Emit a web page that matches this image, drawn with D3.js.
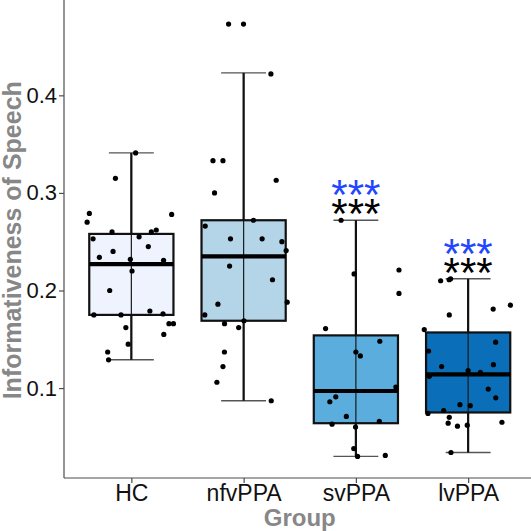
<!DOCTYPE html>
<html>
<head>
<meta charset="utf-8">
<script src="https://cdn.jsdelivr.net/npm/d3@7"></script>
<style>
  body { margin: 0; background: #fff; }
  svg { display: block; font-family: "Liberation Sans", Arial, sans-serif; }
</style>
</head>
<body>
<div id="chart"></div>
<script>
// groups and box summaries
const groups = ["HC", "nfvPPA", "svPPA", "lvPPA"];
const whiskerLow = [0.129, 0.087, 0.030, 0.034];
const q1 = [0.175, 0.169, 0.064, 0.075];
const medians = [0.227, 0.235, 0.097, 0.114];
const q3 = [0.258, 0.272, 0.154, 0.157];
const whiskerHigh = [0.341, 0.423, 0.272, 0.212];

// individual scores per group
const hcValues = [0.341, 0.315, 0.279, 0.270, 0.278, 0.260, 0.260, 0.262, 0.253, 0.255,
  0.240, 0.245, 0.234, 0.232, 0.231, 0.220, 0.200, 0.175, 0.175, 0.179,
  0.176, 0.162, 0.166, 0.166, 0.155, 0.145, 0.137, 0.129];
const nfvValues = [0.473, 0.473, 0.422, 0.333, 0.333, 0.313, 0.300, 0.272, 0.266, 0.253,
  0.253, 0.250, 0.241, 0.225, 0.211, 0.186, 0.188, 0.175, 0.166, 0.162,
  0.169, 0.137, 0.122, 0.106, 0.087];
const svValues = [0.272, 0.217, 0.221, 0.197, 0.161, 0.148, 0.137, 0.133, 0.101, 0.091,
  0.086, 0.071, 0.063, 0.066, 0.060, 0.038, 0.030, 0.031];
const lvValues = [0.210, 0.211, 0.212, 0.175, 0.181, 0.185, 0.160, 0.147, 0.138, 0.122,
  0.124, 0.118, 0.116, 0.112, 0.099, 0.090, 0.083, 0.082, 0.077, 0.074,
  0.070, 0.064, 0.061, 0.062, 0.065, 0.034];

// horizontal jitter (in group units) as seen in the picture
const hcJitter = [0.038, -0.142, -0.374, -0.394, 0.359, -0.172, 0.178, 0.222, -0.341, 0.069,
  -0.163, 0.151, -0.285, -0.009, 0.287, 0.006, -0.193, -0.334, -0.092, 0.165,
  0.282, -0.049, 0.335, 0.375, 0.289, -0.028, -0.211, -0.203];
const nfvJitter = [-0.134, -0.001, 0.243, -0.273, -0.184, 0.290, -0.259, 0.088, -0.342, -0.117,
  0.165, 0.341, 0.379, -0.125, 0.257, -0.229, 0.388, -0.346, -0.170, -0.044,
  0.003, -0.171, -0.184, -0.238, 0.246];
const svJitter = [-0.132, -0.016, 0.384, 0.384, -0.270, 0.213, 0.000, 0.040, 0.356, -0.179,
  -0.232, -0.085, -0.212, 0.209, -0.003, -0.019, 0.015, 0.262];
const lvJitter = [-0.245, -0.169, -0.156, -0.168, 0.223, 0.376, -0.391, 0.245, -0.353, -0.236,
  0.225, 0.000, 0.109, -0.346, 0.179, 0.246, -0.073, 0.019, -0.218, -0.358,
  -0.168, -0.178, -0.095, -0.008, 0.301, -0.153];

const yTicks = [0.1, 0.2, 0.3, 0.4];
const starGroups = ["svPPA", "lvPPA"];

const fills = ["#eef3fe", "#b4d4e8", "#5aaddd", "#0a6fb8"];
const starBlue = "#2347ff";

const W = 531, H = 531;
const padLeft = 64, padBottom = 478, padTop = 2.5, padRight = 535.5;

const values = [hcValues, nfvValues, svValues, lvValues];
const jitters = [hcJitter, nfvJitter, svJitter, lvJitter];

const points = [];
values.forEach((vals, g) => vals.forEach((v, i) => {
  points.push({ g, v, dx: jitters[g][i] });
}));

const all = points.map(d => d.v).concat(whiskerLow, whiskerHigh);
const ext = d3.extent(all);
const pad = (ext[1] - ext[0]) * 0.05;

const x = d3.scaleLinear().domain([0.4, 4.6]).range([padLeft, padRight]);
const y = d3.scaleLinear().domain([ext[0] - pad, ext[1] + pad]).range([padBottom, padTop]);
const unit = x(1) - x(0);

const svg = d3.select("#chart").append("svg")
  .attr("width", W).attr("height", H);

// y axis
const yAxis = svg.append("g")
  .attr("transform", `translate(${padLeft},0)`)
  .call(d3.axisLeft(y).tickValues(yTicks).tickFormat(d3.format(".1f"))
    .tickSize(5).tickPadding(2).tickSizeOuter(0));
yAxis.select(".domain").remove();
yAxis.selectAll("line").attr("stroke", "#4d4d4d").attr("stroke-width", 1.2);
yAxis.selectAll("text").attr("fill", "#111").style("font-size", "22px");

// x axis
const xAxis = svg.append("g")
  .attr("transform", `translate(0,${padBottom})`)
  .call(d3.axisBottom(x).tickValues([1, 2, 3, 4]).tickFormat(i => groups[i - 1])
    .tickSize(5).tickPadding(2).tickSizeOuter(0));
xAxis.select(".domain").remove();
xAxis.selectAll("line").attr("stroke", "#4d4d4d").attr("stroke-width", 1.2);
xAxis.selectAll("text").attr("fill", "#111").style("font-size", "23px");

// axis lines
svg.append("line").attr("x1", padLeft).attr("x2", padLeft).attr("y1", 0).attr("y2", padBottom)
  .attr("stroke", "#4d4d4d").attr("stroke-width", 1.2);
svg.append("line").attr("x1", padLeft).attr("x2", W).attr("y1", padBottom).attr("y2", padBottom)
  .attr("stroke", "#4d4d4d").attr("stroke-width", 1.2);

// boxes
const box = svg.append("g").selectAll("g")
  .data(groups)
  .join("g");

const bw = 0.375 * unit;
const cw = 0.2 * unit;

box.append("rect")
  .attr("x", (d, i) => x(i + 1) - bw)
  .attr("width", 2 * bw)
  .attr("y", (d, i) => y(q3[i]))
  .attr("height", (d, i) => y(q1[i]) - y(q3[i]))
  .attr("fill", (d, i) => fills[i]);

// error bar line through the box
box.append("line")
  .attr("x1", (d, i) => x(i + 1)).attr("x2", (d, i) => x(i + 1))
  .attr("y1", (d, i) => y(whiskerLow[i])).attr("y2", (d, i) => y(whiskerHigh[i]))
  .attr("stroke", "#1a1a1a").attr("stroke-width", 1.2);

// caps
[whiskerLow, whiskerHigh].forEach(arr => {
  box.append("line")
    .attr("x1", (d, i) => x(i + 1) - cw).attr("x2", (d, i) => x(i + 1) + cw)
    .attr("y1", (d, i) => y(arr[i])).attr("y2", (d, i) => y(arr[i]))
    .attr("stroke", "#555").attr("stroke-width", 1.4);
});

// thick whiskers
box.append("line")
  .attr("x1", (d, i) => x(i + 1)).attr("x2", (d, i) => x(i + 1))
  .attr("y1", (d, i) => y(q3[i])).attr("y2", (d, i) => y(whiskerHigh[i]))
  .attr("stroke", "#111").attr("stroke-width", 2.2);
box.append("line")
  .attr("x1", (d, i) => x(i + 1)).attr("x2", (d, i) => x(i + 1))
  .attr("y1", (d, i) => y(q1[i])).attr("y2", (d, i) => y(whiskerLow[i]))
  .attr("stroke", "#111").attr("stroke-width", 2.2);

box.append("rect")
  .attr("x", (d, i) => x(i + 1) - bw)
  .attr("width", 2 * bw)
  .attr("y", (d, i) => y(q3[i]))
  .attr("height", (d, i) => y(q1[i]) - y(q3[i]))
  .attr("fill", "none").attr("stroke", "#111").attr("stroke-width", 2.2);

box.append("line")
  .attr("x1", (d, i) => x(i + 1) - bw).attr("x2", (d, i) => x(i + 1) + bw)
  .attr("y1", (d, i) => y(medians[i])).attr("y2", (d, i) => y(medians[i]))
  .attr("stroke", "#000").attr("stroke-width", 4.2);

// jittered points
svg.append("g").selectAll("circle")
  .data(points)
  .join("circle")
  .attr("cx", d => x(d.g + 1 + d.dx))
  .attr("cy", d => y(d.v))
  .attr("r", 2.6)
  .attr("fill", "#000");

// significance stars: blue row above black row, in one text
starGroups.forEach(name => {
  const i = groups.indexOf(name);
  const base = y(whiskerHigh[i]) + 8;
  const t = svg.append("text")
    .attr("text-anchor", "middle")
    .style("font-size", "42px");
  t.append("tspan")
    .attr("x", x(i + 1)).attr("y", base - 19)
    .attr("fill", starBlue)
    .text("***");
  t.append("tspan")
    .attr("x", x(i + 1)).attr("y", base)
    .attr("fill", "#000")
    .text("***");
});

// titles
svg.append("text")
  .attr("transform", `translate(21,${(padTop + padBottom) / 2}) rotate(-90)`)
  .attr("text-anchor", "middle")
  .style("font-size", "25px").style("font-weight", "bold")
  .attr("fill", "#878787")
  .text("Informativeness of Speech");

svg.append("text")
  .attr("x", (padLeft + padRight) / 2).attr("y", 526)
  .attr("text-anchor", "middle")
  .style("font-size", "24px").style("font-weight", "bold")
  .attr("fill", "#878787")
  .text("Group");
</script>
</body>
</html>
